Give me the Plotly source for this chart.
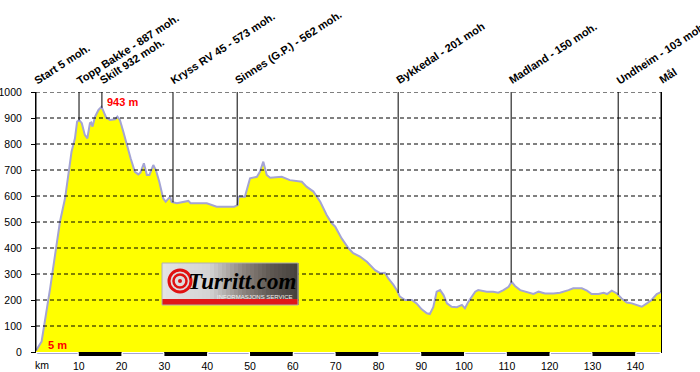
import numpy as np
import plotly.graph_objects as go

# ---------------- data ----------------
dist_km = [0, 0.3, 1.3, 3.3, 5.6, 6.8, 7.5, 8.3, 9.1, 9.6, 10.1, 10.7, 11.4, 12.0, 12.6, 12.9,
           13.2, 13.8, 14.6, 15.3, 15.7, 16.4, 17.3, 18.5, 19.0, 19.6, 20.4, 21.2, 22.1, 23.1,
           23.9, 24.4, 25.2, 25.9, 26.5, 27.4, 28.0, 28.8, 29.7, 30.3, 31.3, 31.7, 32.9, 35.6,
           36.1, 39.9, 42.2, 46.3, 47.1, 47.3, 48.8, 50.0, 51.6, 52.3, 53.1, 53.9, 54.7, 57.4,
           59.3, 62.1, 63.2, 64.8, 66.4, 67.9, 69.1, 69.9, 71.4, 73.0, 74.1, 75.7, 77.3, 79.2,
           80.4, 81.5, 82.3, 83.5, 84.3, 85.0, 86.2, 87.8, 88.9, 90.1, 91.3, 92.0, 92.8, 93.6,
           94.4, 95.2, 96.0, 97.1, 98.3, 99.5, 100.2, 101.0, 102.6, 103.3, 105.3, 106.8, 108.0,
           109.2, 110.4, 111.1, 111.9, 113.1, 115.0, 116.2, 117.4, 118.9, 120.9, 122.4, 124.4,
           125.5, 127.5, 128.7, 129.8, 131.4, 132.6, 133.4, 134.5, 135.7, 136.8, 138.0, 139.2,
           140.3, 141.5, 142.7, 143.8, 145.0, 145.6, 146.0]
elev_m = [5, 12, 40, 245, 501, 592, 680, 770, 822, 886, 892, 880, 835, 822, 880, 883,
          867, 905, 931, 943, 928, 901, 892, 895, 905, 892, 847, 796, 745, 693,
          683, 690, 726, 681, 681, 719, 700, 655, 591, 578, 597, 577, 572, 581,
          572, 572, 559, 559, 565, 597, 597, 668, 674, 693, 732, 681, 670, 674,
          661, 655, 636, 617, 578, 527, 495, 482, 437, 399, 380, 367, 347, 315,
          303, 305, 283, 258, 238, 213, 200, 200, 187, 164, 149, 146, 172, 232,
          238, 219, 187, 174, 172, 181, 168, 193, 232, 238, 232, 232, 228,
          238, 251, 270, 254, 238, 228, 223, 232, 225, 225, 228, 238,
          245, 245, 236, 223, 223, 228, 223, 236, 225, 206, 190, 187,
          181, 174, 187, 200, 223, 228, 230]

marker_names = ["Start 5 moh.", "Topp Bakke - 887 moh.", "Skilt 932 moh.",
                "Kryss RV 45 - 573 moh.", "Sinnes (G.P.) - 562 moh.", "Bykkedal - 201 moh",
                "Madland - 150 moh.", "Undheim - 103 moh.", "Mål"]
marker_km = [0, 10.05, 15.4, 32.0, 47.0, 84.6, 111.0, 136.0, 146.0]

y_ticks = [0, 100, 200, 300, 400, 500, 600, 700, 800, 900, 1000]
x_ticks = [10, 20, 30, 40, 50, 60, 70, 80, 90, 100, 110, 120, 130, 140]
x_max = 146
y_max = 1000

# ---------------- layout geometry ----------------
W, H = 700, 372
ML, MR, MT, MB = 36, 39, 92, 20
PW, PH = W - ML - MR, H - MT - MB


def px(xs):  # screen x -> paper
    return (xs - ML) / PW


def py(ys):  # screen y -> paper
    return (H - MB - ys) / PH


FONT = "Arial, Liberation Sans, sans-serif"

fig = go.Figure()
fig.add_trace(go.Scatter(
    x=dist_km, y=elev_m, mode="lines", fill="tozeroy",
    fillcolor="#FFFF00", line=dict(color="#A4A4D4", width=2),
    hoverinfo="skip", showlegend=False))

shapes = []
# dashed grid on top of fill
for v in y_ticks[1:]:
    shapes.append(dict(type="line", xref="x", yref="y", x0=0, x1=x_max, y0=v, y1=v,
                       line=dict(color="black", width=1, dash="4px,3px"), layer="above"))

# marker lines
marker_elev = np.interp(marker_km, dist_km, elev_m)
for k, e in zip(marker_km, marker_elev):
    shapes.append(dict(type="line", xref="x", yref="y", x0=k, x1=k, y0=e, y1=y_max,
                       line=dict(color="black", width=1), layer="above"))

# scale bar under the axis
for i in range(int(np.ceil(x_max / 10))):
    x0, x1 = 10 * i, min(10 * (i + 1), x_max)
    shapes.append(dict(type="rect", xref="x", yref="paper", x0=x0, x1=x1,
                       y0=-4 / PH, y1=0, line=dict(width=0),
                       fillcolor="black" if i % 2 else "white", layer="above"))
    if i % 2 == 0:
        shapes.append(dict(type="line", xref="x", yref="paper", x0=x0 + 0.3, x1=x1 - 0.3,
                           y0=-1.5 / PH, y1=-1.5 / PH, line=dict(color="#A4A4D4", width=1),
                           layer="above"))

# logo box (gradient via strips)
lx0, lx1, ly0, ly1 = 162, 298, 263, 305
stops = [(0.0, (228, 228, 228)), (0.35, (212, 212, 212)), (0.6, (140, 132, 126)),
         (0.8, (95, 88, 82)), (1.0, (70, 66, 62))]
N = 34
for i in range(N):
    t = (i + 0.5) / N
    for j in range(len(stops) - 1):
        if stops[j][0] <= t <= stops[j + 1][0]:
            a, ca = stops[j]
            b, cb = stops[j + 1]
            f = (t - a) / (b - a)
            c = tuple(int(ca[k] + (cb[k] - ca[k]) * f) for k in range(3))
            break
    xa = lx0 + (lx1 - lx0) * i / N
    xb = lx0 + (lx1 - lx0) * (i + 1) / N
    shapes.append(dict(type="rect", xref="paper", yref="paper", x0=px(xa), x1=px(xb) + 0.001,
                       y0=py(ly1), y1=py(ly0), line=dict(width=0),
                       fillcolor="rgb(%d,%d,%d)" % c, layer="above"))
# red bar
shapes.append(dict(type="rect", xref="paper", yref="paper", x0=px(lx0), x1=px(lx1),
                   y0=py(ly1), y1=py(ly1 - 6), line=dict(width=0),
                   fillcolor="#E01818", layer="above"))
shapes.append(dict(type="rect", xref="paper", yref="paper", x0=px(lx0), x1=px(lx1),
                   y0=py(ly1), y1=py(ly0), line=dict(color="#B0B0B0", width=1),
                   fillcolor="rgba(0,0,0,0)", layer="above"))
# red swirl
for r, w in [(11, 3), (6.5, 2.5)]:
    shapes.append(dict(type="circle", xref="paper", yref="paper",
                       x0=px(180 - r), x1=px(180 + r), y0=py(281 + r), y1=py(281 - r),
                       line=dict(color="#E01010", width=w), fillcolor="rgba(0,0,0,0)", layer="above"))
shapes.append(dict(type="circle", xref="paper", yref="paper",
                   x0=px(178), x1=px(182), y0=py(283), y1=py(279),
                   line=dict(width=0), fillcolor="#E01010", layer="above"))

annotations = []
for name, k in zip(marker_names, marker_km):
    annotations.append(dict(x=k, y=y_max, xref="x", yref="y", text=name, showarrow=False,
                            textangle=-33, xanchor="left", yanchor="bottom",
                            xshift=-7, yshift=3,
                            font=dict(family=FONT, size=11, color="black", weight="bold")))

# peak / start elevation labels
i_max = int(np.argmax(elev_m))
annotations.append(dict(x=dist_km[i_max], y=elev_m[i_max], xref="x", yref="y",
                        text="%d m" % elev_m[i_max], showarrow=False, xanchor="left",
                        yanchor="middle", xshift=3, yshift=5,
                        font=dict(family=FONT, size=11, color="#FF0000", weight="bold")))
annotations.append(dict(x=dist_km[0], y=elev_m[0], xref="x", yref="y",
                        text="%d m" % elev_m[0], showarrow=False, xanchor="left",
                        yanchor="middle", xshift=10, yshift=6,
                        font=dict(family=FONT, size=11, color="#FF0000", weight="bold")))
# km label
annotations.append(dict(x=px(42), y=py(365), xref="paper", yref="paper", text="km",
                        showarrow=False, xanchor="center", yanchor="middle",
                        font=dict(family=FONT, size=10.5, color="black")))
# logo text
annotations.append(dict(x=px(242), y=py(281), xref="paper", yref="paper", text="Turritt.com",
                        showarrow=False, xanchor="center", yanchor="middle",
                        font=dict(family="Liberation Serif, Times New Roman, serif", size=23,
                                  color="black", weight="bold", style="italic")))
annotations.append(dict(x=px(255), y=py(297), xref="paper", yref="paper",
                        text="INFORMASJONS SERVICE", showarrow=False, xanchor="center",
                        yanchor="middle",
                        font=dict(family=FONT, size=6, color="#F0F0F0")))

fig.update_layout(
    width=W, height=H, margin=dict(l=ML, r=MR, t=MT, b=MB, pad=0, autoexpand=False),
    paper_bgcolor="white", plot_bgcolor="white",
    shapes=shapes, annotations=annotations, showlegend=False,
    xaxis=dict(range=[0, x_max], tickvals=x_ticks, ticks="", showgrid=False, zeroline=False,
               showline=True, linecolor="black", linewidth=1, automargin=False,
               ticklabelstandoff=4, tickfont=dict(family=FONT, size=10.5, color="black"),
               fixedrange=True),
    yaxis=dict(range=[0, y_max], tickvals=y_ticks, ticks="outside", ticklen=4,
               tickcolor="black", showgrid=False, zeroline=False, showline=True,
               linecolor="black", linewidth=1, mirror=True, automargin=False,
               ticklabelstandoff=7, tickfont=dict(family=FONT, size=10.5, color="black"),
               fixedrange=True),
)

# remove the page's default body margin so the figure sits at the window's top-left
fig.write_html("out.html", config={"displayModeBar": False},
               post_script="document.body.style.margin='0';")
